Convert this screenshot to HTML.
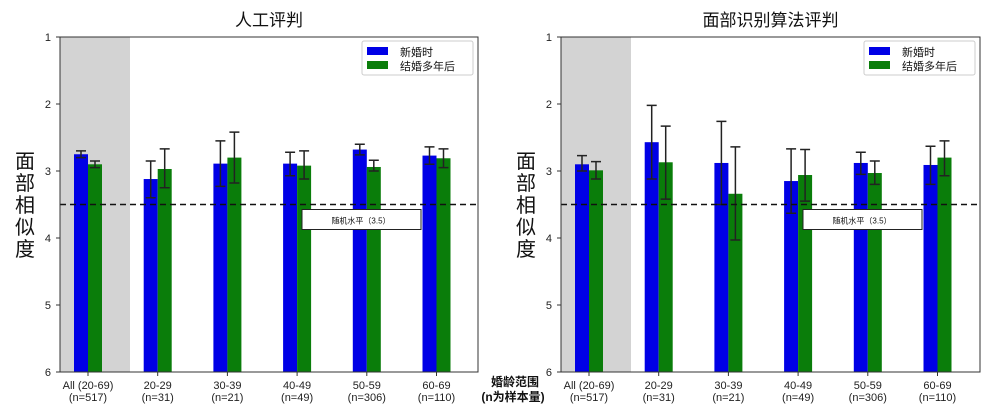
<!DOCTYPE html>
<html><head><meta charset="utf-8"><style>
body{margin:0;background:#fff;width:1000px;height:415px;overflow:hidden;font-family:"Liberation Sans","Noto Sans CJK SC",sans-serif}
svg{position:absolute;left:0;top:0}
</style></head><body>
<svg id="c" width="1000" height="415"></svg>
<script>
const categories=["All (20-69)","20-29","30-39","40-49","50-59","60-69"];
const nLabels=["(n=517)","(n=31)","(n=21)","(n=49)","(n=306)","(n=110)"];
const yTicks=[1,2,3,4,5,6];
const humanNew=[2.75,3.12,2.89,2.89,2.68,2.77];
const humanNewLo=[2.70,2.85,2.55,2.72,2.60,2.64];
const humanNewHi=[2.80,3.40,3.23,3.07,2.76,2.90];
const humanOld=[2.90,2.97,2.80,2.92,2.94,2.81];
const humanOldLo=[2.85,2.67,2.42,2.70,2.84,2.67];
const humanOldHi=[2.95,3.25,3.18,3.12,3.00,2.95];
const algoNew=[2.90,2.57,2.88,3.15,2.88,2.91];
const algoNewLo=[2.77,2.02,2.26,2.67,2.72,2.63];
const algoNewHi=[3.00,3.12,3.50,3.63,3.05,3.20];
const algoOld=[2.99,2.87,3.34,3.06,3.03,2.80];
const algoOldLo=[2.86,2.33,2.64,2.68,2.85,2.55];
const algoOldHi=[3.12,3.42,4.03,3.45,3.20,3.07];
const chance=3.5;

const svg=document.getElementById('c');
const NS='http://www.w3.org/2000/svg';
function mk(t,a,p){const e=document.createElementNS(NS,t);for(const k in a)e.setAttribute(k,a[k]);(p||svg).appendChild(e);return e;}
function panel(x0,x1,title,nv,nlo,nhi,ov,olo,ohi,pname){
  const g=mk('g',{});
  
  
  const top=37,bot=372;
  const y=v=>top+(v-1)*(bot-top)/5;
  const step=69.7, c0=x0+28, bw=14;
  const xc=i=>c0+i*step;
  const gray=mk('rect',{x:x0,y:top,width:70,height:bot-top,fill:'#d3d3d3'},g);
  
  
  const tt=mk('text',{x:(x0+x1)/2,y:26,'text-anchor':'middle','font-size':17,fill:'#111'},g);
  tt.textContent=title;
  
  
  yTicks.forEach(t=>{
    mk('line',{x1:x0-4,x2:x0,y1:y(t),y2:y(t),stroke:'#333'},g);
    const tx=mk('text',{x:x0-9,y:y(t)+4,'text-anchor':'end','font-size':11,fill:'#222'},g);
    tx.textContent=t;
    
    
  });
  function bars(vals,lo,hi,off,col,nm){
    vals.forEach((v,i)=>{
      const cx=xc(i)+off;
      const r=mk('rect',{x:cx-bw/2,y:y(v),width:bw,height:bot-y(v),fill:col},g);
      
      
      const e=mk('path',{d:`M${cx} ${y(lo[i])}V${y(hi[i])}M${cx-5} ${y(lo[i])}H${cx+5}M${cx-5} ${y(hi[i])}H${cx+5}`,stroke:'#222','stroke-width':1.5,fill:'none'},g);
      
      
    });
  }
  bars(nv,nlo,nhi,-7,'#0000e6','newlywed');
  bars(ov,olo,ohi,7,'#0a7d0a','married-years');
  const dl=mk('line',{x1:x0,x2:x1,y1:y(chance),y2:y(chance),stroke:'#111','stroke-width':1.6,'stroke-dasharray':'6,4'},g);
  
  
  mk('rect',{x:x0,y:top,width:x1-x0,height:bot-top,fill:'none',stroke:'#333'},g);
  categories.forEach((c,i)=>{
    mk('line',{x1:xc(i),x2:xc(i),y1:bot,y2:bot+4,stroke:'#333'},g);
    const a=mk('text',{x:xc(i),y:bot+17,'text-anchor':'middle','font-size':11,fill:'#222'},g);a.textContent=c;
    
    
    const b=mk('text',{x:xc(i),y:bot+29,'text-anchor':'middle','font-size':11,fill:'#222'},g);b.textContent=nLabels[i];
    
    
  });
  const lg=mk('g',{},g);
  
  
  const lx=x1-116;
  mk('rect',{x:lx,y:41,width:111,height:34,fill:'#fff',stroke:'#ccc',rx:2},lg);
  mk('rect',{x:lx+5,y:47,width:21,height:8,fill:'#0000e6'},lg);
  mk('rect',{x:lx+5,y:61,width:21,height:8,fill:'#0a7d0a'},lg);
  const l1=mk('text',{x:lx+38,y:56,'font-size':11,fill:'#111'},lg);l1.textContent='新婚时';
  const l2=mk('text',{x:lx+38,y:70,'font-size':11,fill:'#111'},lg);l2.textContent='结婚多年后';
  const bx=x0+242;
  const cb=mk('g',{},g);
  
  
  mk('rect',{x:bx,y:y(chance)+5,width:119,height:20,fill:'#fff',stroke:'#222'},cb);
  const ct=mk('text',{x:bx+59,y:y(chance)+19,'text-anchor':'middle','font-size':8,fill:'#111'},cb);ct.textContent='随机水平（3.5）';
  const yl=mk('text',{x:25,y:168,'font-size':20,fill:'#111','text-anchor':'middle'},g);
  
  
  '面部相似度'.split('').forEach((ch,k)=>{const s=mk('tspan',{x:x0-35,dy:k?22:0},yl);s.textContent=ch;});
}
panel(60,478,'人工评判',humanNew,humanNewLo,humanNewHi,humanOld,humanOldLo,humanOldHi,'human-panel');
panel(561,980,'面部识别算法评判',algoNew,algoNewLo,algoNewHi,algoOld,algoOldLo,algoOldHi,'algorithm-panel');
const xt=mk('text',{x:515,y:386,'text-anchor':'middle','font-size':12,'font-weight':'bold',fill:'#111'});


const t1=mk('tspan',{x:515},xt);t1.textContent='婚龄范围';
const t2=mk('tspan',{x:513,dy:15},xt);t2.textContent='(n为样本量)';
</script>
</body></html>
